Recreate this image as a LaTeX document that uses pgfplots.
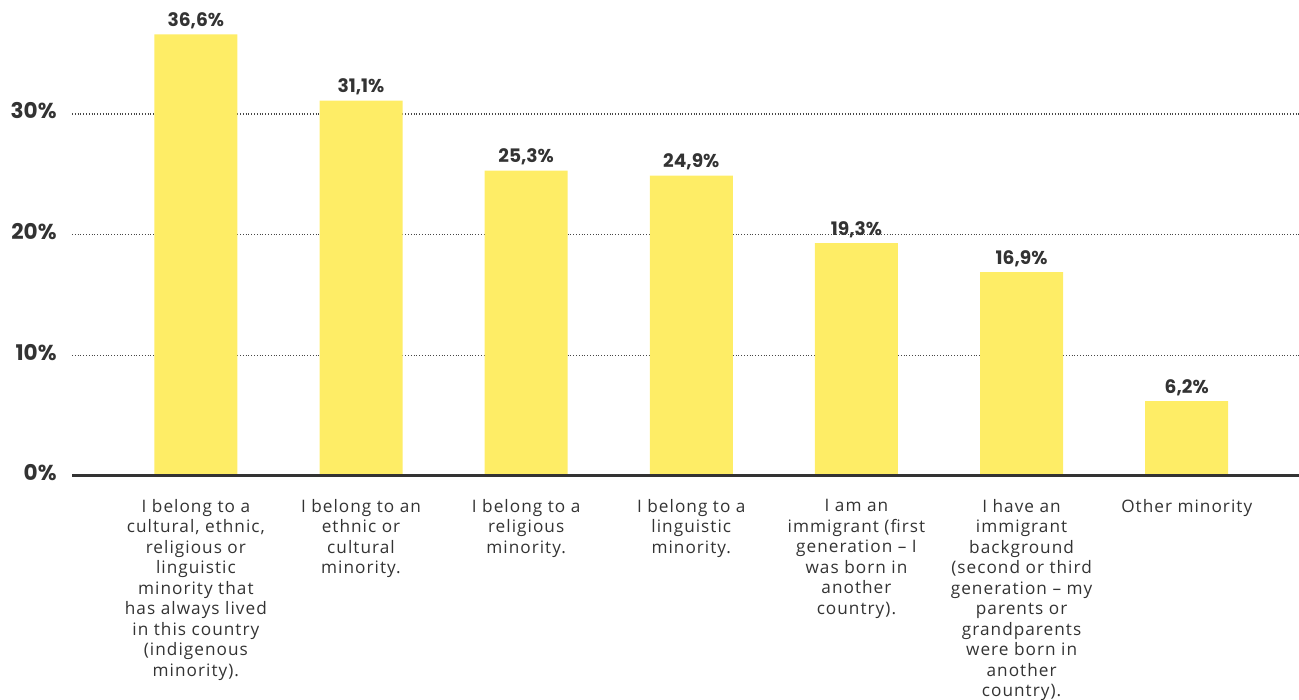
\documentclass[border=0pt]{standalone}
\usepackage{pgfplots}
\pgfplotsset{compat=1.18}
\usepackage{fontspec}
\setmainfont{Open Sans}[LetterSpace=6]
\newfontfamily\numfont{Poppins}
\definecolor{baryellow}{HTML}{FEED66}
\definecolor{txt}{HTML}{333333}
\begin{document}
\begin{tikzpicture}[x=1pt,y=1pt]
\useasboundingbox (0,0) rectangle (649.5,350);
\begin{axis}[
  at={(36pt,112pt)}, anchor=south west,
  scale only axis, width=613.5pt, height=238pt,
  xmin=-0.75, xmax=6.68, ymin=0, ymax=39.45,
  axis line style={draw=none},
  major tick length=0pt,
  ytick={0,10,20,30},
  yticklabels={0\%,10\%,20\%,30\%},
  yticklabel style={font=\numfont\bfseries\fontsize{10.8}{12}\selectfont, text=txt, inner sep=0pt, anchor=east, xshift=-7.5pt, yshift=1.5pt},
  ymajorgrids,
  grid style={densely dotted, color=txt!90, line width=0.6pt},
  xtick={0,1,2,3,4,5,6},
  xticklabels={
    {I belong to a\\cultural, ethnic,\\religious or\\linguistic\\minority that\\has always lived\\in this country\\(indigenous\\minority).},
    {I belong to an\\ethnic or\\cultural\\minority.},
    {I belong to a\\religious\\minority.},
    {I belong to a\\linguistic\\minority.},
    {I am an\\immigrant (first\\generation – I\\was born in\\another\\country).},
    {I have an\\immigrant\\background\\(second or third\\generation – my\\parents or\\grandparents\\were born in\\another\\country).},
    {Other minority}},
  xticklabel style={font=\fontsize{8.6}{10.25}\selectfont, text=txt, align=center, anchor=north, inner sep=0pt, yshift=-11.5pt},
  ybar, bar width=41.5pt,
  nodes near coords={\pgfmathprintnumber[use comma,fixed,fixed zerofill,precision=1,assume math mode=true]{\pgfplotspointmeta}\%},
  nodes near coords style={font=\numfont\bfseries\fontsize{9.3}{11}\selectfont, text=txt, anchor=south, inner sep=0pt, yshift=2.5pt},
  clip=false,
]
\addplot[fill=baryellow, draw=none] coordinates {
  (0,36.6) (1,31.1) (2,25.3) (3,24.9) (4,19.3) (5,16.9) (6,6.2)
};
\draw[line width=1.5pt, color=txt] (rel axis cs:0,0) -- (rel axis cs:1,0);
\end{axis}
\end{tikzpicture}
\end{document}
